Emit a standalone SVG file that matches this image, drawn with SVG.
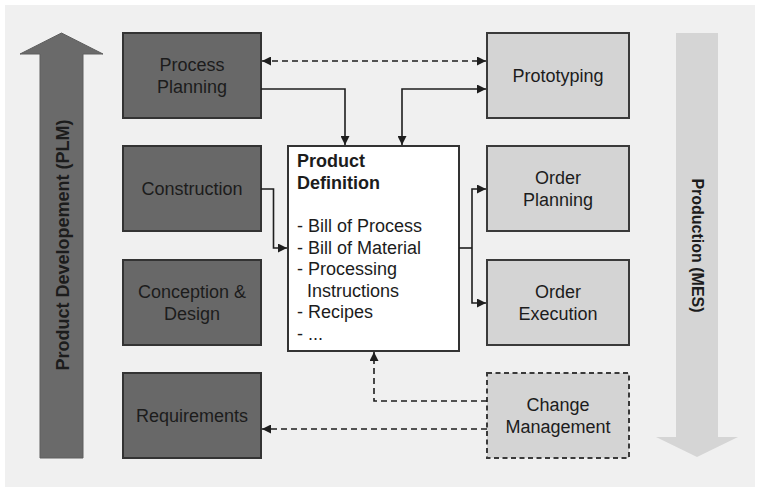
<svg xmlns="http://www.w3.org/2000/svg" width="761" height="491" viewBox="0 0 761 491">
<defs>
<marker id="ah" viewBox="0 0 10 10" refX="10" refY="5" markerWidth="10" markerHeight="9" markerUnits="userSpaceOnUse" orient="auto-start-reverse">
<path d="M0,0 L10,5 L0,10 z" fill="#1e1e1e"/>
</marker>
<style>
text{font-family:"Liberation Sans",Arial,sans-serif;font-size:18px;fill:#1c1c1c;text-anchor:middle}
.dark{fill:#686868;stroke:#333;stroke-width:2}
.light{fill:#d4d4d4;stroke:#3a3a3a;stroke-width:2}
.dash{stroke-dasharray:5 3.5}
.c{fill:none;stroke:#1e1e1e;stroke-width:1.6}
.cd{fill:none;stroke:#1e1e1e;stroke-width:1.6;stroke-dasharray:6 4}
.b{font-weight:bold}
.l{text-anchor:start}
</style>
</defs>
<rect x="0" y="0" width="761" height="491" fill="#ffffff"/>
<rect x="5" y="5" width="750" height="482" fill="#f0f0f0"/>

<g id="plm-arrow">
<path d="M40,458 L40,54 L20,54 L61.5,33 L103,54 L83,54 L83,458 Z" fill="#6a6a6a" stroke="#5e5e5e" stroke-width="1"/>
<text class="b" transform="translate(69,245) rotate(-90)" style="font-size:18px">Product Developement (PLM)</text>
</g>

<g id="mes-arrow">
<path d="M676,33 L718,33 L718,437 L738,437 L697,457 L656,437 L676,437 Z" fill="#d5d5d5"/>
<text class="b" transform="translate(691.5,245.5) rotate(90)" style="font-size:16px">Production (MES)</text>
</g>

<g id="process-planning">
<rect class="dark" x="123" y="33" width="138" height="85"/>
<text x="192" y="71">Process</text>
<text x="192" y="92.5">Planning</text>
</g>
<g id="construction">
<rect class="dark" x="123" y="146" width="138" height="85"/>
<text x="192" y="195">Construction</text>
</g>
<g id="conception-design">
<rect class="dark" x="123" y="260" width="138" height="85"/>
<text x="192" y="298">Conception &amp;</text>
<text x="192" y="319.5">Design</text>
</g>
<g id="requirements">
<rect class="dark" x="123" y="373" width="138" height="85"/>
<text x="192" y="421.5">Requirements</text>
</g>

<g id="prototyping">
<rect class="light" x="487" y="33" width="142" height="85"/>
<text x="558" y="82">Prototyping</text>
</g>
<g id="order-planning">
<rect class="light" x="487" y="146" width="142" height="85"/>
<text x="558" y="184">Order</text>
<text x="558" y="205.5">Planning</text>
</g>
<g id="order-execution">
<rect class="light" x="487" y="260" width="142" height="85"/>
<text x="558" y="298">Order</text>
<text x="558" y="319.5">Execution</text>
</g>
<g id="change-management">
<rect class="light dash" x="487" y="373" width="142" height="85"/>
<text x="558" y="411">Change</text>
<text x="558" y="432.5">Management</text>
</g>

<g id="product-definition">
<rect x="288" y="146" width="171" height="205" fill="#ffffff" stroke="#333" stroke-width="2"/>
<text class="b l" x="297" y="167">Product</text>
<text class="b l" x="297" y="188.5">Definition</text>
<text class="l" x="297" y="232">- Bill of Process</text>
<text class="l" x="297" y="253.5">- Bill of Material</text>
<text class="l" x="297" y="275">- Processing</text>
<text class="l" x="307" y="296.5">Instructions</text>
<text class="l" x="297" y="318">- Recipes</text>
<text class="l" x="297" y="339.5">- ...</text>
</g>

<g id="connectors">
<path class="cd" d="M262,61 L486,61" marker-start="url(#ah)" marker-end="url(#ah)"/>
<path class="c" d="M261,89 L345,89 L345,145" marker-end="url(#ah)"/>
<path class="c" d="M402,145 L402,89 L486,89" marker-start="url(#ah)" marker-end="url(#ah)"/>
<path class="c" d="M261,189 L273.5,189 L273.5,248 L287,248" marker-end="url(#ah)"/>
<path class="c" d="M459,248 L472,248"/>
<path class="c" d="M486,189 L472,189 L472,303 L486,303" marker-start="url(#ah)" marker-end="url(#ah)"/>
<path class="cd" d="M487,401 L374,401 L374,352" marker-end="url(#ah)"/>
<path class="cd" d="M487,429 L262,429" marker-end="url(#ah)"/>
</g>
</svg>
